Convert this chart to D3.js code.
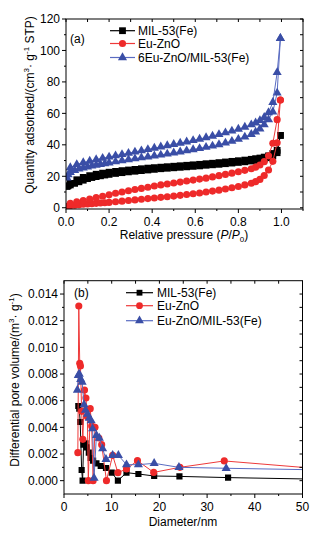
<!DOCTYPE html>
<html>
<head>
<meta charset="utf-8">
<script src="https://cdn.jsdelivr.net/npm/d3@7"></script>
<style>
  body { margin: 0; background: #fff; }
  svg { display: block; font-family: "Liberation Sans", Arial, sans-serif; }
</style>
</head>
<body>
<div id="chart"></div>
<script>
// ---- data (a): N2 isotherms, P/P0 vs quantity adsorbed ----
const seriesNamesA = ["MIL-53(Fe)", "Eu-ZnO", "6Eu-ZnO/MIL-53(Fe)"];
const adsP = [0.005,0.01,0.02,0.04,0.06,0.08,0.10,0.12,0.14,0.16,0.18,0.20,0.23,0.26,0.29,0.32,0.35,0.38,0.41,0.44,0.47,0.50,0.53,0.56,0.59,0.62,0.65,0.68,0.71,0.74,0.77,0.80,0.83,0.86,0.88,0.90,0.92,0.94,0.96,0.98,0.995];
const desP = [0.98,0.96,0.94,0.92,0.90,0.88,0.86,0.83,0.80,0.77,0.74,0.71,0.68,0.65,0.62,0.59,0.56,0.53,0.50,0.47,0.44,0.41,0.38,0.35,0.32,0.29,0.26,0.23,0.20,0.17,0.14,0.11,0.08,0.05,0.02];

const milAds = [13.5,14,14.5,15.5,16.5,17.5,18.5,19.2,19.8,20.3,20.8,21.2,21.8,22.3,22.8,23.2,23.6,24,24.4,24.8,25.1,25.4,25.7,26,26.3,26.6,27,27.3,27.6,28,28.4,28.8,29.2,29.7,30.1,30.5,31,31.8,33,35,46];
const milDes = [36.5,34.5,33,32.2,31.6,31.2,30.8,30.3,29.9,29.5,29.1,28.7,28.3,28,27.6,27.3,27,26.7,26.4,26.1,25.8,25.5,25.2,24.8,24.4,24,23.6,23.1,22.6,22,21.3,20.4,19.3,17.8,15.5];

const znoAds = [0.8,1.0,1.3,1.6,1.9,2.2,2.4,2.6,2.8,3.0,3.2,3.4,3.8,4.2,4.6,5.0,5.4,5.8,6.2,6.6,7.0,7.4,7.9,8.4,8.9,9.4,10,10.6,11.2,11.9,12.7,13.5,14.5,15.6,16.6,18,20.5,24,29.5,41.3,68.5];
const znoDes = [56,41,33,29.3,27.2,25.8,24.8,23.8,22.9,22,21.2,20.4,19.6,18.8,18.2,17.6,17,16.3,15.7,15.1,14.5,13.8,13,12.3,11.6,10.8,10,9.2,8.2,7.3,6.4,5.5,4.6,3.7,2.8];

const compAds = [19,21,22.5,23.8,24.7,25.4,26,26.6,27.1,27.6,28.1,28.6,29.3,30,30.6,31.2,31.8,32.4,33,33.6,34.2,34.9,35.6,36.3,37,37.7,38.5,39.3,40.2,41.2,42.3,43.6,45,46.7,48.2,50.2,52.8,56,61,73,107.7];
const compDes = [86,67,60.5,57.5,55.5,54,52.8,51.3,50,48.8,47.7,46.6,45.6,44.6,43.7,42.8,41.9,41.1,40.3,39.5,38.7,37.9,37.1,36.3,35.5,34.7,33.9,33.1,32.3,31.5,30.6,29.7,28.7,27.5,25.5];

const ticksAX = [0.0,0.2,0.4,0.6,0.8,1.0];
const ticksAY = [0,20,40,60,80,100,120];

// ---- data (b): pore size distribution ----
const seriesNamesB = ["MIL-53(Fe)", "Eu-ZnO", "Eu-ZnO/MIL-53(Fe)"];
const milD = [3.0,3.2,3.4,3.7,3.9,4.1,4.5,4.8,5.2,5.6,6.1,6.8,7.7,8.8,10.0,11.3,13.1,15.6,18.9,24.2,34.4,55];
const milV = [0.0056,0.0054,0.0044,0.0008,0.0000,0.0027,0.0028,0.0025,0.0021,0.0017,0.0015,0.0013,0.0011,0.00095,0.0006,0.0000,0.0006,0.0005,0.00035,0.00032,0.00023,0.0001];
const znoD = [2.9,3.1,3.3,3.45,3.7,3.95,4.3,4.6,4.9,5.1,5.5,5.8,6.1,6.5,7.3,7.9,8.9,10.2,11.3,13.1,15.4,18.8,24.3,33.6,55];
const znoV = [0.0021,0.0131,0.0088,0.0086,0.0052,0.0031,0.0068,0.0062,0.0048,0.0000,0.0054,0.0041,0.0000,0.0040,0.0032,0.0027,0.0000,0.0019,0.0006,0.00088,0.0015,0.00062,0.0010,0.00148,0.00085];
const compD = [2.8,3.0,3.2,3.5,3.8,4.2,4.5,4.9,5.3,5.7,6.0,6.3,6.8,7.4,8.1,8.8,10.2,11.4,13.1,15.6,18.9,24.1,34,55];
const compV = [0.0068,0.0079,0.0080,0.0076,0.0074,0.0057,0.0053,0.0050,0.0047,0.0045,0.0039,0.0002,0.0034,0.0032,0.0024,0.0016,0.0019,0.0019,0.0012,0.0012,0.0013,0.0010,0.00093,0.0008];

const ticksBX = [0,10,20,30,40,50];
const ticksBY = [0,0.002,0.004,0.006,0.008,0.010,0.012,0.014];

const colors = ["#000000", "#ee2a2a", "#3a4ea6"];
const lineColors = ["#000000", "#ee3a3a", "#5a6cc2"];
const shapes = [d3.symbolSquare, d3.symbolCircle, d3.symbolTriangle];

const W = 316, H = 535;
const svg = d3.select("#chart").append("svg").attr("width", W).attr("height", H);

function frame(g, x, y, xt, xminor, yt, yminor, xfmt, yfmt) {
  const [x0, x1] = x.range(), [y0, y1] = y.range();
  g.append("rect").attr("x", x0).attr("y", y1).attr("width", x1 - x0).attr("height", y0 - y1)
    .attr("fill", "none").attr("stroke", "#000").attr("stroke-width", 1);
  // left, outward
  yt.forEach(v => g.append("line").attr("x1", x0 - 4).attr("x2", x0).attr("y1", y(v)).attr("y2", y(v)).attr("stroke", "#000"));
  yminor.forEach(v => g.append("line").attr("x1", x0 - 2).attr("x2", x0).attr("y1", y(v)).attr("y2", y(v)).attr("stroke", "#000"));
  // right, inward
  yt.concat(yminor).forEach(v => g.append("line").attr("x1", x1 - 3).attr("x2", x1).attr("y1", y(v)).attr("y2", y(v)).attr("stroke", "#000"));
  // bottom outward
  xt.forEach(v => g.append("line").attr("x1", x(v)).attr("x2", x(v)).attr("y1", y0).attr("y2", y0 + 4).attr("stroke", "#000"));
  xminor.forEach(v => g.append("line").attr("x1", x(v)).attr("x2", x(v)).attr("y1", y0).attr("y2", y0 + 2).attr("stroke", "#000"));
  // top inward
  xt.concat(xminor).forEach(v => g.append("line").attr("x1", x(v)).attr("x2", x(v)).attr("y1", y1).attr("y2", y1 + 3).attr("stroke", "#000"));

  g.selectAll(".xl").data(xt).enter().append("text")
    .attr("x", d => x(d)).attr("y", y0 + 17).attr("text-anchor", "middle")
    .attr("font-size", 12).text(xfmt);
  g.selectAll(".yl").data(yt).enter().append("text")
    .attr("x", x0 - 6).attr("y", d => y(d) + 4.3).attr("text-anchor", "end")
    .attr("font-size", 12).text(yfmt);
}

function legend(g, names, x0, x1, tx, rows, size) {
  names.forEach((n, i) => {
    g.append("line").attr("x1", x0).attr("x2", x1).attr("y1", rows[i]).attr("y2", rows[i])
      .attr("stroke", lineColors[i]).attr("stroke-width", 1.2);
    g.append("path").attr("d", d3.symbol(shapes[i], size[i])())
      .attr("transform", `translate(${(x0 + x1) / 2},${rows[i]})`).attr("fill", colors[i]);
    g.append("text").attr("x", tx).attr("y", rows[i] + 4.3).attr("font-size", 12).text(n);
  });
}

function series(g, pts, i, x, y, size, clip) {
  const line = d3.line().x(d => x(d[0])).y(d => y(d[1]));
  const s = g.append("g").attr("clip-path", clip);
  s.append("path").attr("d", line(pts)).attr("fill", "none").attr("stroke", lineColors[i]).attr("stroke-width", 1);
  s.selectAll("path.m").data(pts).enter().append("path").attr("class", "m")
    .attr("d", d3.symbol(shapes[i], size)())
    .attr("transform", d => `translate(${x(d[0])},${y(d[1])})`)
    .attr("fill", colors[i]);
}

// ---------- chart (a) ----------
const xa = d3.scaleLinear().domain([0, 1.1]).range([66, 303]);
const ya = d3.scaleLinear().domain([-0.8, 120]).range([209, 19]);
const ga = svg.append("g");
ga.append("clipPath").attr("id", "ca").append("rect").attr("x", 66).attr("y", 19).attr("width", 237).attr("height", 190);

const adsA = [milAds, znoAds, compAds];
const desA = [milDes, znoDes, compDes];
const sizeA = [46, 40, 36];
[0, 1, 2].forEach(i => {
  const ads = adsP.map((p, k) => [p, adsA[i][k]]);
  const des = [ads[ads.length - 1]].concat(desP.map((p, k) => [p, desA[i][k]]));
  series(ga, ads, i, xa, ya, sizeA[i], "url(#ca)");
  series(ga, des, i, xa, ya, sizeA[i], "url(#ca)");
});

frame(ga, xa, ya, ticksAX, [0.1,0.3,0.5,0.7,0.9,1.1], ticksAY, [10,30,50,70,90,110],
  d => d3.format(".1f")(d), d => d);
legend(ga, seriesNamesA, 110, 135, 138, [30.7, 43.5, 57.5], [46, 40, 36]);
ga.append("text").attr("x", 70).attr("y", 43).attr("font-size", 12).text("(a)");

const xta = ga.append("text").attr("x", 184).attr("y", 238.5).attr("text-anchor", "middle").attr("font-size", 12);
xta.append("tspan").text("Relative pressure (");
xta.append("tspan").attr("font-style", "italic").text("P");
xta.append("tspan").text("/");
xta.append("tspan").attr("font-style", "italic").text("P");
xta.append("tspan").attr("font-size", 8).attr("dy", 3).text("0");
xta.append("tspan").attr("dy", -3).text(")");

const yta = ga.append("text").attr("transform", "translate(34,105) rotate(-90)").attr("text-anchor", "middle").attr("font-size", 12);
yta.append("tspan").text("Quantity adsorbed/(cm");
yta.append("tspan").attr("font-size", 8).attr("dy", -5).text("3");
yta.append("tspan").attr("dy", 5).text("· g");
yta.append("tspan").attr("font-size", 8).attr("dy", -5).text("-1");
yta.append("tspan").attr("dy", 5).text(" STP)");

// ---------- chart (b) ----------
const xb = d3.scaleLinear().domain([0, 50]).range([64, 302.5]);
const yb = d3.scaleLinear().domain([-0.001, 0.015]).range([494, 280.7]);
const gb = svg.append("g");
gb.append("clipPath").attr("id", "cb").append("rect").attr("x", 64).attr("y", 280.7).attr("width", 238.5).attr("height", 213.3);

const dB = [milD, znoD, compD];
const vB = [milV, znoV, compV];
const sizeB = [38, 40, 36];
[0, 1, 2].forEach(i => {
  const pts = dB[i].map((d, k) => [d, vB[i][k]]);
  series(gb, pts, i, xb, yb, sizeB[i], "url(#cb)");
});

frame(gb, xb, yb, ticksBX, [5,15,25,35,45], ticksBY, [0.001,0.003,0.005,0.007,0.009,0.011,0.013,-0.001,0.015].filter(v => v > -0.001 && v < 0.015),
  d => d, d => d3.format(".3f")(d));
legend(gb, seriesNamesB, 126, 153, 157, [292.7, 305.7, 320.7], [34, 36, 34]);
gb.append("text").attr("x", 74).attr("y", 297).attr("font-size", 12).text("(b)");

gb.append("text").attr("x", 183).attr("y", 526).attr("text-anchor", "middle").attr("font-size", 12).text("Diameter/nm");

const ytb = gb.append("text").attr("transform", "translate(19,380) rotate(-90)").attr("text-anchor", "middle").attr("font-size", 12);
ytb.append("tspan").text("Differential pore volume/(m");
ytb.append("tspan").attr("font-size", 8).attr("dy", -5).text("3");
ytb.append("tspan").attr("dy", 5).text("· g");
ytb.append("tspan").attr("font-size", 8).attr("dy", -5).text("-1");
ytb.append("tspan").attr("dy", 5).text(")");
</script>
</body>
</html>
